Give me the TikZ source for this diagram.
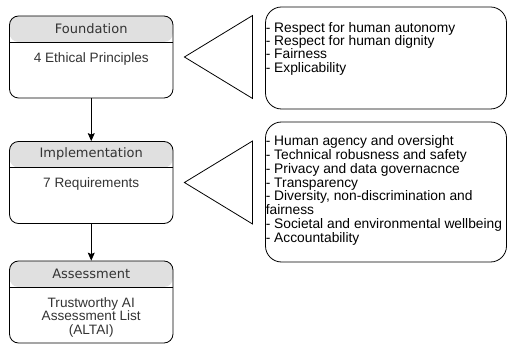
\documentclass[tikz,border=0pt]{standalone}
\usepackage{fontspec}
\setmainfont{Liberation Sans}
\newfontfamily\headfont{DejaVu Sans}
\usetikzlibrary{arrows.meta,calc,positioning}
\definecolor{hdrgray}{HTML}{E0E0E0}
\definecolor{txtgray}{HTML}{333333}

\begin{document}
\begin{tikzpicture}[x=1pt,y=-1pt,
  stage/.style={draw,line width=0.8pt,rounded corners=9pt,minimum width=163.5pt,minimum height=82pt,inner sep=0pt,
    path picture={\fill[hdrgray] (path picture bounding box.north west) rectangle ([yshift=-26pt]path picture bounding box.north east);
      \draw[line width=0.8pt] ([yshift=-26pt]path picture bounding box.north west) -- ([yshift=-26pt]path picture bounding box.north east);}},
  headtxt/.style={inner sep=0pt,text=txtgray,font=\headfont\fontsize{13}{15}\selectfont},
  bodytxt/.style={inner sep=0pt,text=txtgray,align=center,font=\fontsize{13.6}{13.6}\selectfont},
  listbox/.style={draw,line width=0.8pt,rounded corners=16pt,minimum width=241pt,inner sep=0pt},
  listtxt/.style={inner sep=0pt,align=left,font=\fontsize{13.8}{13.8}\selectfont},
  wedge/.style={draw,line width=0.8pt},
  flow/.style={line width=0.8pt,-{Stealth[length=8pt,width=7pt,inset=1.5pt]}}]
\useasboundingbox (0,0) rectangle (508,347);

% left column
\node[stage] (fnd) at (91.25,57) {};
\node[headtxt] (fndh) at ([yshift=-13pt]fnd.north) {Foundation};
\node[bodytxt,anchor=base] (fndb) at ([yshift=-46.5pt]fnd.north) {4 Ethical Principles};

\node[stage] (imp) at (91.25,182.5) {};
\node[headtxt] (imph) at ([yshift=-13pt]imp.north) {Implementation};
\node[bodytxt,anchor=base] (impb) at ([yshift=-46.5pt]imp.north) {7 Requirements};

\node[stage] (ass) at (91.25,302) {};
\node[headtxt] (assh) at ([yshift=-13pt]ass.north) {Assessment};
\node[bodytxt,anchor=north] (assb) at ([yshift=-36.5pt]ass.north) {Trustworthy AI\\Assessment List\\(ALTAI)};

\draw[flow] (fnd) -- (imp);
\draw[flow] (imp) -- (ass);

% wedges
\draw[wedge] ($(fnd.east)+(11,0)$) -- ($(fnd.north east)+(79,0)$) -- ($(fnd.south east)+(79,0)$) -- cycle;
\draw[wedge] ($(imp.east)+(11,0)$) -- ($(imp.north east)+(79,0)$) -- ($(imp.south east)+(79,0)$) -- cycle;

% right column
\node[listbox,minimum height=102pt] (lst1) at (386,58) {};
\node[listtxt,anchor=north west,font=\fontsize{13.8}{13.1}\selectfont] (lst1t) at ($(lst1.north west)+(0.5,16)$)
  {- Respect for human autonomy\\- Respect for human dignity\\- Fairness\\- Explicability};

\node[listbox,minimum height=140pt] (lst2) at (386,192) {};
\node[listtxt,anchor=north west] (lst2t) at ($(lst2.north west)+(0.5,14)$)
  {- Human agency and oversight\\- Technical robusness and safety\\- Privacy and data governacnce\\- Transparency\\- Diversity, non-discrimination and\\fairness\\- Societal and environmental wellbeing\\- Accountability};
\end{tikzpicture}
\end{document}
